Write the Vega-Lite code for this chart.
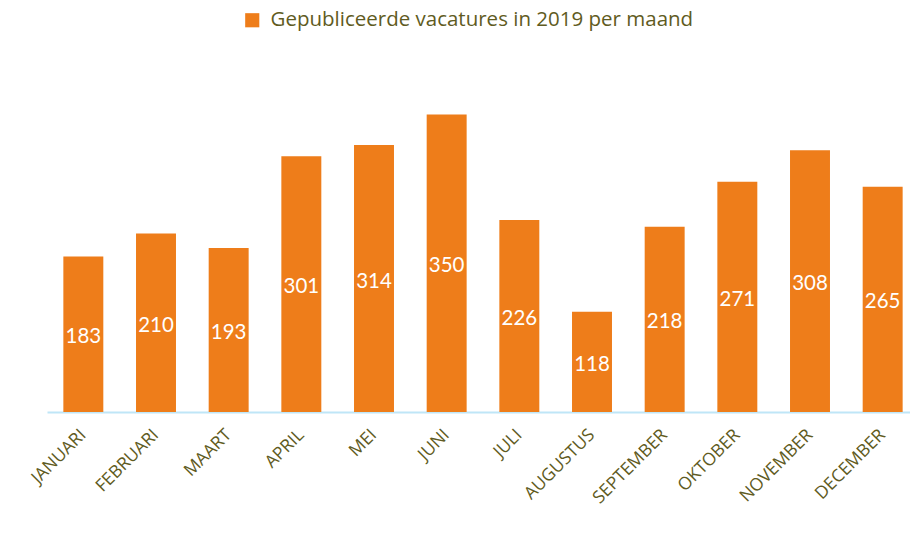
{
  "$schema": "https://vega.github.io/schema/vega-lite/v6.json",
  "autosize": {"type": "none"},
  "padding": {"left": 47, "top": 72, "right": 0, "bottom": 124},
  "width": 872,
  "height": 340,
  "background": "white",
  "config": {"view": {"stroke": null}},
  "data": {"values": [
    {"maand": "JANUARI", "aantal": 183, "reeks": "Gepubliceerde vacatures in 2019 per maand"},
    {"maand": "FEBRUARI", "aantal": 210, "reeks": "Gepubliceerde vacatures in 2019 per maand"},
    {"maand": "MAART", "aantal": 193, "reeks": "Gepubliceerde vacatures in 2019 per maand"},
    {"maand": "APRIL", "aantal": 301, "reeks": "Gepubliceerde vacatures in 2019 per maand"},
    {"maand": "MEI", "aantal": 314, "reeks": "Gepubliceerde vacatures in 2019 per maand"},
    {"maand": "JUNI", "aantal": 350, "reeks": "Gepubliceerde vacatures in 2019 per maand"},
    {"maand": "JULI", "aantal": 226, "reeks": "Gepubliceerde vacatures in 2019 per maand"},
    {"maand": "AUGUSTUS", "aantal": 118, "reeks": "Gepubliceerde vacatures in 2019 per maand"},
    {"maand": "SEPTEMBER", "aantal": 218, "reeks": "Gepubliceerde vacatures in 2019 per maand"},
    {"maand": "OKTOBER", "aantal": 271, "reeks": "Gepubliceerde vacatures in 2019 per maand"},
    {"maand": "NOVEMBER", "aantal": 308, "reeks": "Gepubliceerde vacatures in 2019 per maand"},
    {"maand": "DECEMBER", "aantal": 265, "reeks": "Gepubliceerde vacatures in 2019 per maand"}
  ]},
  "encoding": {
    "x": {
      "field": "maand", "type": "nominal", "sort": null,
      "scale": {"paddingInner": 0.45, "paddingOuter": 0.225},
      "axis": {
        "title": null, "labelAngle": -45, "labelAlign": "right", "labelBaseline": "middle",
        "labelFont": "Open Sans", "labelFontSize": 17.5, "labelColor": "#5F5B22",
        "labelPadding": 20, "ticks": false, "domainColor": "#BFE6F7", "domainWidth": 2,
        "grid": false
      }
    }
  },
  "layer": [
    {
      "mark": {"type": "bar", "color": "#EE7D1A"},
      "encoding": {
        "y": {
          "field": "aantal", "type": "quantitative",
          "scale": {"domain": [0, 400]},
          "axis": null
        },
        "color": {
          "field": "reeks", "type": "nominal",
          "scale": {"range": ["#EE7D1A"]},
          "legend": {
            "title": null, "orient": "none", "legendX": 195, "legendY": -62,
            "symbolType": "square", "symbolSize": 200, "symbolStrokeWidth": 0,
            "labelFont": "Open Sans", "labelFontSize": 20.5, "labelColor": "#5F5B22",
            "labelLimit": 600, "labelOffset": 8
          }
        }
      }
    },
    {
      "mark": {"type": "text", "color": "white", "font": "Lato", "fontSize": 20.5, "baseline": "middle", "dy": 3},
      "encoding": {
        "y": {
          "field": "aantal", "type": "quantitative",
          "scale": {"domain": [0, 800]},
          "axis": null
        },
        "text": {"field": "aantal", "type": "quantitative"}
      }
    }
  ],
  "resolve": {"scale": {"y": "independent"}}
}
